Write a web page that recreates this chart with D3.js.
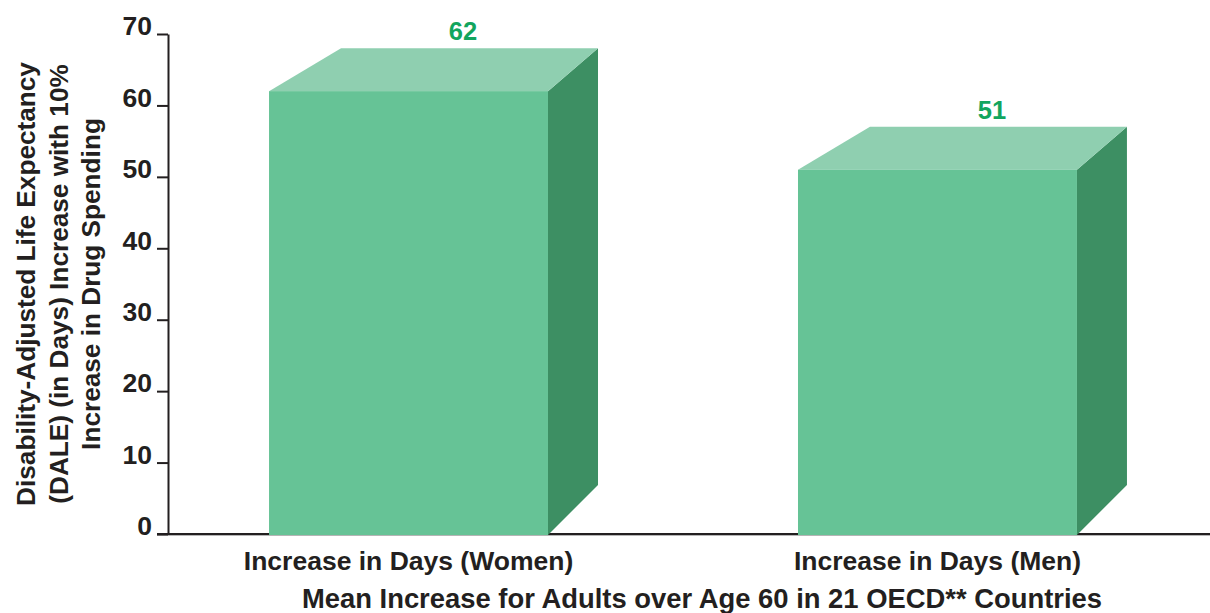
<!DOCTYPE html>
<html>
<head>
<meta charset="utf-8">
<script src="https://cdn.jsdelivr.net/npm/d3@7"></script>
<style>
  html, body { margin: 0; padding: 0; background: #fff; }
  svg { display: block; font-family: "Liberation Sans", Arial, Helvetica, sans-serif; }
</style>
</head>
<body>
<svg id="chart" width="1210" height="613"></svg>
<script>
// ---- data ----
const categories = ["Increase in Days (Women)", "Increase in Days (Men)"];
const values = [62, 51];
const yTicks = [0, 10, 20, 30, 40, 50, 60, 70];
const yTitleLines = [
  "Disability-Adjusted Life Expectancy",
  "(DALE) (in Days) Increase with 10%",
  "Increase in Drug Spending"
];
const xTitle = "Mean Increase for Adults over Age 60 in 21 OECD** Countries";

// ---- layout ----
const W = 1210, H = 613;
const svg = d3.select("#chart");
const ink = "#231f20";
const cFront = "#66c396", cTop = "#8fcfb0", cSide = "#3d8f63", cLabel = "#12a55e";

const y = d3.scaleLinear().domain([0, 70]).range([534, 34]);
const x = d3.scaleBand().domain(categories).range([168, 1178])
  .paddingInner(0.4726).paddingOuter(0.191);

const depthX = 50, topLeftShift = 72, depthYTop = 43, depthYBottom = 50;

// baseline
svg.append("line").attr("x1", 157).attr("x2", W).attr("y1", 535.5).attr("y2", 535.5)
  .attr("stroke", "#b5b5b5").attr("stroke-width", 1);
svg.append("line").attr("x1", 157).attr("x2", W).attr("y1", y(0)).attr("y2", y(0))
  .attr("stroke", ink).attr("stroke-width", 2);

// bars
const bars = svg.append("g").selectAll("g").data(categories).join("g");
bars.each(function(c, i) {
  const g = d3.select(this);
  const x0 = x(c), x1 = x(c) + x.bandwidth();
  const yt = y(values[i]), yb = y(0) + 1;
  // side
  g.append("path")
    .attr("d", `M${x1},${yt}L${x1 + depthX},${yt - depthYTop}L${x1 + depthX},${yb - depthYBottom}L${x1},${yb}Z`)
    .attr("fill", cSide);
  // top
  g.append("path")
    .attr("d", `M${x0},${yt}L${x0 + topLeftShift},${yt - depthYTop}L${x1 + depthX},${yt - depthYTop}L${x1},${yt}Z`)
    .attr("fill", cTop);
  // front
  g.append("rect").attr("x", x0).attr("y", yt).attr("width", x.bandwidth()).attr("height", yb - yt)
    .attr("fill", cFront);
  // value label
  g.append("text")
    .attr("x", x0 + 194).attr("y", yt - 51)
    .attr("text-anchor", "middle")
    .attr("font-size", 25.5).attr("font-weight", "bold").attr("fill", cLabel)
    .text(values[i]);
});

// y axis
const yAxis = d3.axisLeft(y).tickValues(yTicks).tickSize(11).tickSizeOuter(0).tickPadding(5);
const gy = svg.append("g").attr("transform", "translate(168,0)").call(yAxis);
gy.select(".domain").attr("stroke", ink).attr("stroke-width", 2);
gy.selectAll(".tick line").attr("stroke", ink).attr("stroke-width", 2);
gy.selectAll(".tick text")
  .attr("fill", ink).attr("font-size", 26.5).attr("font-weight", "bold")
  .attr("font-family", "'Liberation Sans', Arial, sans-serif")
  .attr("dy", "0.03em");

// category labels
svg.append("g").selectAll("text").data(categories).join("text")
  .attr("x", d => x(d) + x.bandwidth() / 2)
  .attr("y", 570)
  .attr("text-anchor", "middle")
  .attr("font-size", 26.5).attr("font-weight", "bold").attr("fill", ink)
  .text(d => d);

// x title
svg.append("text")
  .attr("x", 702).attr("y", 608)
  .attr("text-anchor", "middle")
  .attr("font-size", 27.4).attr("font-weight", "bold").attr("fill", ink)
  .text(xTitle);

// y title
const baseX = [35, 67.5, 100];
svg.append("g").selectAll("text").data(yTitleLines).join("text")
  .attr("transform", (d, i) => `translate(${baseX[i]},284) rotate(-90)`)
  .attr("text-anchor", "middle")
  .attr("font-size", 26.2).attr("font-weight", "bold").attr("fill", ink)
  .text(d => d);
</script>
</body>
</html>
